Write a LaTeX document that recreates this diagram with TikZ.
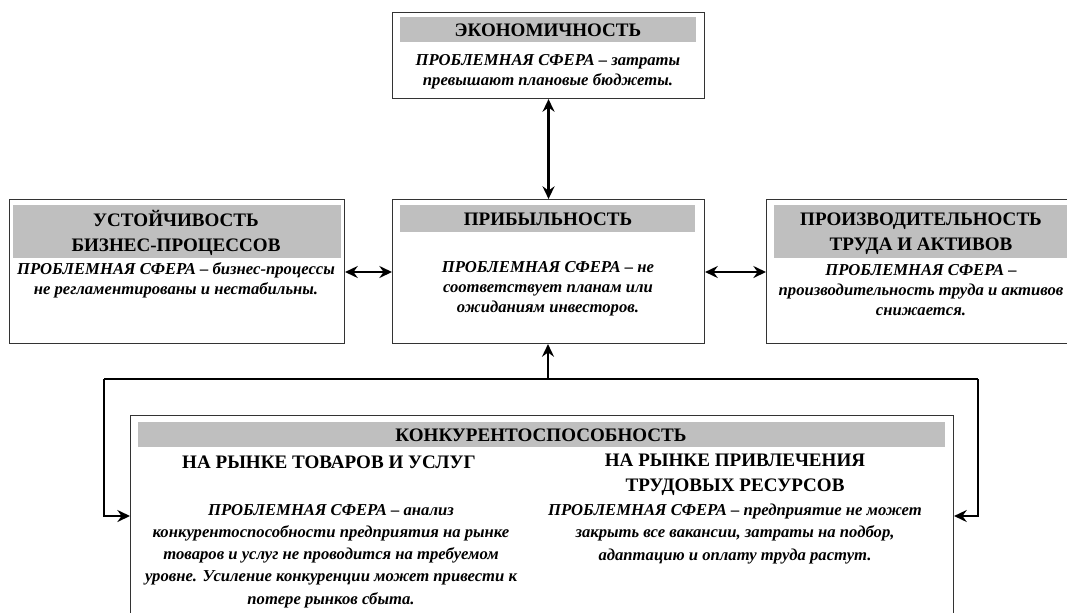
\documentclass[tikz,border=0pt]{standalone}
\usepackage{fontspec}
\setmainfont{Liberation Serif}
\usetikzlibrary{arrows.meta}

\begin{document}
\begin{tikzpicture}[x=0.75pt,y=-0.75pt,
  frame/.style={draw=black!80,line width=0.8pt,fill=white,anchor=north west,inner sep=0pt},
  band/.style={fill=black!25,draw=none,anchor=north west,inner sep=0pt},
  head/.style={inner sep=0pt,align=center,font=\bfseries\fontsize{14.3}{18.75}\selectfont},
  body/.style={inner sep=0pt,align=center,font=\bfseries\itshape\fontsize{12.5}{15}\selectfont},
  bodyk/.style={inner sep=0pt,align=center,font=\bfseries\itshape\fontsize{12.5}{16.6}\selectfont},
  link/.style={line width=1.9pt,draw=black},
  tip/.style={-{Stealth[length=9.5pt,width=9pt,inset=3.2pt]}},
  twotip/.style={{Stealth[length=9.5pt,width=9pt,inset=3.2pt]}-{Stealth[length=9.5pt,width=9pt,inset=3.2pt]}}
]
\useasboundingbox (0,0) rectangle (1067,612);
\clip (0,0) rectangle (1067,612);

% --- boxes ---
\node[frame,minimum width=234pt,minimum height=64.5pt] (eco) at (392,12) {};
\node[band,minimum width=222pt,minimum height=18.75pt] (ecoband) at (400,17) {};

\node[frame,minimum width=251.25pt,minimum height=108pt] (sus) at (9,199) {};
\node[band,minimum width=246pt,minimum height=39.75pt] (susband) at (13,205) {};

\node[frame,minimum width=234pt,minimum height=108pt] (pro) at (392,199) {};
\node[band,minimum width=221.25pt,minimum height=20.25pt] (proband) at (400,205) {};

\node[frame,minimum width=232.5pt,minimum height=108pt] (prd) at (766,199) {};
\node[band,minimum width=220.5pt,minimum height=39.75pt] (prdband) at (774,205) {};

\node[frame,minimum width=617.25pt,minimum height=168.75pt] (kon) at (130,415) {};
\node[band,minimum width=605.25pt,minimum height=18.75pt] (konband) at (138,422) {};

% --- texts ---
\node[head] (ecot) at (548,30) {ЭКОНОМИЧНОСТЬ};
\node[body] (ecob) at (548,72) {ПРОБЛЕМНАЯ СФЕРА – затраты\\превышают плановые бюджеты.};

\node[head] (sust) at (176,233) {УСТОЙЧИВОСТЬ\\БИЗНЕС-ПРОЦЕССОВ};
\node[body] (susb) at (176,280) {ПРОБЛЕМНАЯ СФЕРА – бизнес-процессы\\не регламентированы и нестабильны.};

\node[head] (prot) at (548,219) {ПРИБЫЛЬНОСТЬ};
\node[body] (prob) at (548,289) {ПРОБЛЕМНАЯ СФЕРА – не\\соответствует планам или\\ожиданиям инвесторов.};

\node[head] (prdt) at (921,234) {ПРОИЗВОДИТЕЛЬНОСТЬ\\ТРУДА И АКТИВОВ};
\node[body] (prdb) at (921,290) {ПРОБЛЕМНАЯ СФЕРА –\\производительность труда и активов\\снижается.};

\node[head] (kont) at (541,435) {КОНКУРЕНТОСПОСОБНОСТЬ};
\node[head] (konl) at (329,462) {НА РЫНКЕ ТОВАРОВ И УСЛУГ};
\node[bodyk] (konlb) at (331,556) {ПРОБЛЕМНАЯ СФЕРА – анализ\\конкурентоспособности предприятия на рынке\\товаров и услуг не проводится на требуемом\\уровне. Усиление конкуренции может привести к\\потере рынков сбыта.};
\node[head] (konr) at (735,475) {НА РЫНКЕ ПРИВЛЕЧЕНИЯ\\ТРУДОВЫХ РЕСУРСОВ};
\node[bodyk] (konrb) at (735,534) {ПРОБЛЕМНАЯ СФЕРА – предприятие не может\\закрыть все вакансии, затраты на подбор,\\адаптацию и оплату труда растут.};

% --- connectors ---
\coordinate (midy) at (0,272);
\coordinate (loopy) at (0,516);
\coordinate (hub) at (548,379);
\coordinate (lcorner) at (104,379);
\coordinate (rcorner) at (978,379);

\draw[link,twotip] (eco.south) -- (pro.north);
\draw[link,twotip] (sus.east |- midy) -- (pro.west |- midy);
\draw[link,twotip] (pro.east |- midy) -- (prd.west |- midy);
\draw[link,tip] (hub) -- (hub |- pro.south);
\draw[link,line join=miter] (lcorner) -- (rcorner);
\draw[link,tip,line join=miter] (lcorner) |- (kon.west |- loopy);
\draw[link,tip,line join=miter] (rcorner) |- (kon.east |- loopy);
\end{tikzpicture}
\end{document}
